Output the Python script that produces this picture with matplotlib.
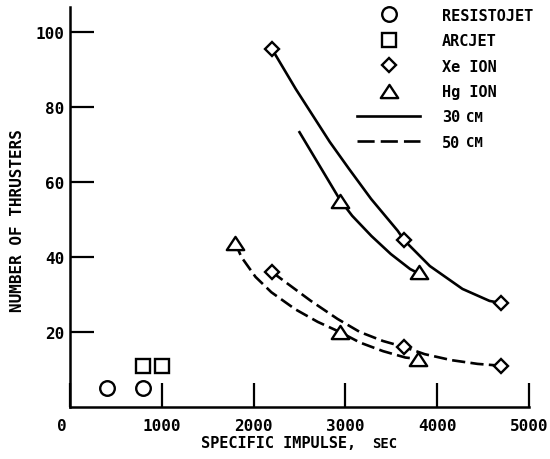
import matplotlib
matplotlib.use("Agg")
import matplotlib.pyplot as plt
import matplotlib.transforms as mtransforms
from matplotlib.lines import Line2D
from matplotlib.path import Path

# thruster data: specific impulse (sec) vs number of thrusters
resisto_isp = [400, 800]
resisto_n = [5, 5]
arcjet_isp = [800, 1000]
arcjet_n = [11, 11]

xe30_isp = [2200, 3640, 4700]
xe30_n = [95.5, 44.5, 27.7]
hg30_isp = [2940, 3800]
hg30_n = [55, 36]
xe50_isp = [2200, 3640, 4700]
xe50_n = [36, 16, 11]
hg50_isp = [1800, 2940, 3790]
hg50_n = [43.8, 20, 12.8]

# hand-drawn curves
xe30_curve_isp = [2200, 2460, 2830, 3040, 3280, 3570, 3640, 3920, 4275, 4570, 4700]
xe30_curve_n = [95.5, 84.8, 70.7, 63.5, 55.5, 47, 44.5, 37.6, 31.5, 28.3, 27.7]
hg30_curve_isp = [2500, 2720, 2940, 3074, 3284, 3495, 3705, 3800]
hg30_curve_n = [73.3, 64.3, 55.3, 51, 45.6, 40.8, 36.8, 35.6]
xe50_curve_isp = [2200, 2376, 2624, 2914, 3158, 3410, 3640, 3863, 4154, 4440, 4700]
xe50_curve_n = [36, 32.8, 28.3, 23.5, 20, 17.6, 16, 14.1, 12.5, 11.5, 11]
hg50_curve_isp = [1800, 1867, 2021, 2194, 2452, 2699, 2940, 3158, 3410, 3653, 3790]
hg50_curve_n = [43.8, 40, 34.7, 30.6, 26.1, 22.7, 20, 17.2, 14.9, 13.2, 12.8]

x_ticks = [0, 1000, 2000, 3000, 4000, 5000]
y_ticks = [20, 40, 60, 80, 100]

legend_labels = ["RESISTOJET", "ARCJET", "Xe ION", "Hg ION", "30", "50"]

plt.rcParams['font.family'] = ['DejaVu Sans Mono']
plt.rcParams['font.weight'] = 'bold'

fig = plt.figure(figsize=(5.5, 4.6), dpi=100)
ax = fig.add_axes([70 / 550, 52 / 460, 459 / 550, 400 / 460])
ax.set_xlim(0, 5000)
ax.set_ylim(0, 106.7)

lw = 1.9
dash = (5, 2)
# wide, squat triangle like the drawn symbol
tri = Path([(-1, -0.76), (1, -0.76), (0, 0.76), (-1, -0.76)],
           [Path.MOVETO, Path.LINETO, Path.LINETO, Path.CLOSEPOLY])
mk = dict(mfc='white', mec='black', mew=1.7, ls='none', zorder=3)

ax.plot(xe30_curve_isp, xe30_curve_n, color='black', lw=lw)
ax.plot(hg30_curve_isp, hg30_curve_n, color='black', lw=lw)
ax.plot(xe50_curve_isp, xe50_curve_n, color='black', lw=lw, dashes=dash)
ax.plot(hg50_curve_isp, hg50_curve_n, color='black', lw=lw, dashes=dash)

ax.plot(resisto_isp, resisto_n, marker='o', ms=10.5, **mk)
ax.plot(arcjet_isp, arcjet_n, marker='s', ms=10, **mk)
ax.plot(xe30_isp, xe30_n, marker='D', ms=7.5, **mk)
ax.plot(xe50_isp, xe50_n, marker='D', ms=7.5, **mk)
ax.plot(hg30_isp, hg30_n, marker=tri, ms=12.5, **mk)
ax.plot(hg50_isp, hg50_n, marker=tri, ms=12.5, **mk)

for side in ['top', 'right']:
    ax.spines[side].set_visible(False)
for side in ['left', 'bottom']:
    ax.spines[side].set_linewidth(1.8)

ax.set_xticks(x_ticks)
ax.set_yticks(y_ticks)
ax.tick_params(direction='in', length=17, width=1.6, labelsize=11.5, pad=4)
ax.tick_params(axis='x', pad=8)
# the "0" sits a little to the left of the origin
lab0 = ax.get_xticklabels()[0]
lab0.set_transform(lab0.get_transform() + mtransforms.ScaledTranslation(-8 / 100, 0, fig.dpi_scale_trans))

ax.set_ylabel("NUMBER OF THRUSTERS", fontsize=11.5, fontweight='bold')
ax.yaxis.set_label_coords(-0.098, 0.4675)

ax.set_xlabel("SPECIFIC IMPULSE,", fontsize=11, fontweight='bold')
ax.xaxis.set_label_coords(0.285, -0.1)
ax.xaxis.label.set_ha('left')
ax.xaxis.label.set_va('baseline')
ax.text(0.658, -0.1, "SEC", transform=ax.transAxes, fontsize=10, fontweight='bold',
        ha='left', va='baseline')

handles = [
    Line2D([], [], marker='o', ms=10.5, **mk),
    Line2D([], [], marker='s', ms=10, **mk),
    Line2D([], [], marker='D', ms=7.5, **mk),
    Line2D([], [], marker=tri, ms=12.5, **mk),
    Line2D([], [], color='black', lw=lw),
    Line2D([], [], color='black', lw=lw, dashes=(6.5, 2.3)),
]
leg = ax.legend(handles, legend_labels, loc='upper left', bbox_to_anchor=(0.626, 0.998),
                frameon=False, fontsize=11, handlelength=4.1, labelspacing=0.68,
                handletextpad=1.45, borderaxespad=0, borderpad=0)

# "CM" is lettered smaller after the 30 / 50
fig.canvas.draw()
renderer = fig.canvas.get_renderer()
for t in leg.get_texts()[4:]:
    bb = t.get_window_extent(renderer)
    fig.text((bb.x1 + 6) / fig.bbox.width, (bb.y0 + 0.5) / fig.bbox.height, "CM",
             fontsize=10, fontweight='bold', ha='left', va='bottom')

plt.savefig('out.png', dpi=100)
